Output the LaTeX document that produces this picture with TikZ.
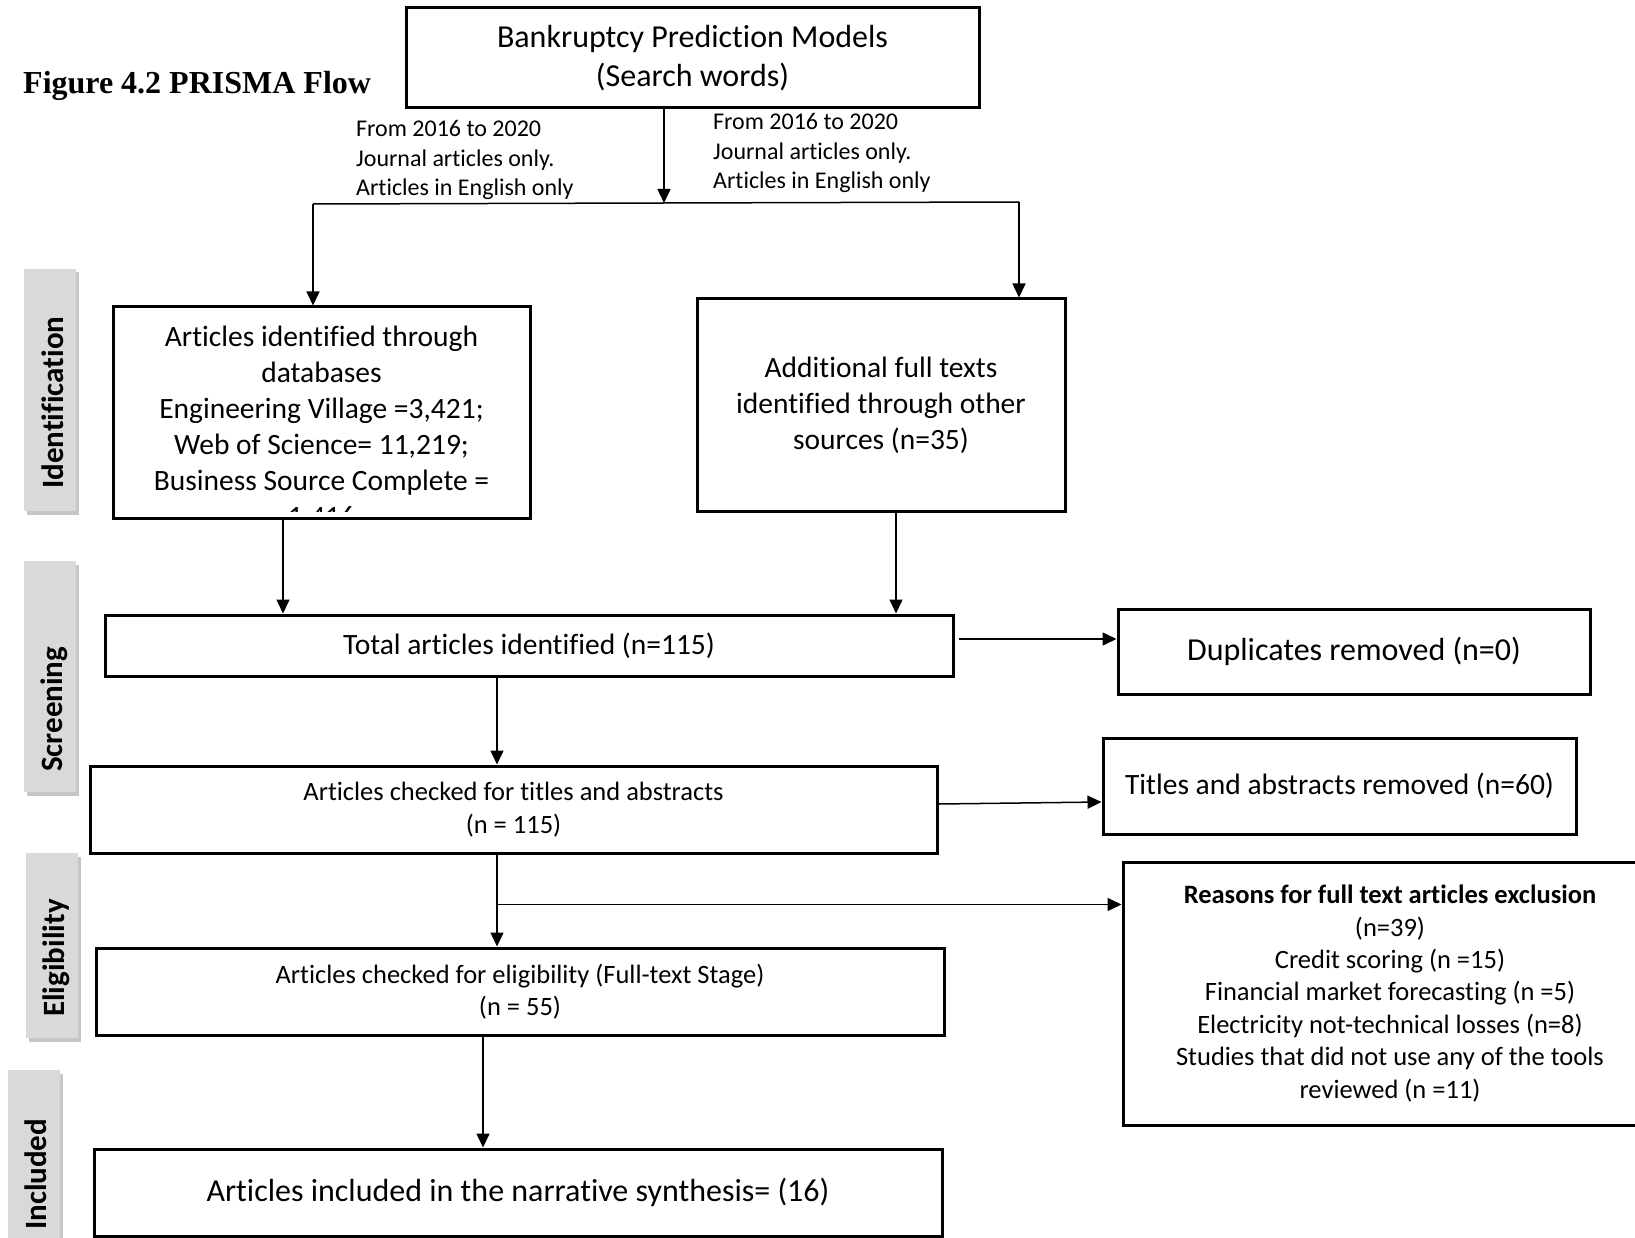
\documentclass[tikz,border=0pt]{standalone}
\usepackage{fontspec}
\setmainfont{Carlito}[Ligatures=NoCommon]
\newfontfamily\tnr{Liberation Serif}
\usetikzlibrary{arrows.meta,positioning,calc,shadows}
\definecolor{sidegray}{HTML}{D9D9D9}

\begin{document}
\begin{tikzpicture}[x=1pt,y=-1pt,
  bx/.style={draw,line width=3pt,inner sep=0pt,align=center},
  fa/.style={font=\fontsize{29.5}{36}\selectfont},
  fb/.style={font=\fontsize{26.5}{32.4}\selectfont},
  fc/.style={font=\fontsize{32}{38.6}\selectfont},
  lab/.style={anchor=west,align=left,inner sep=0pt,font=\fontsize{24}{29.2}\selectfont},
  side/.style={fill=sidegray,inner sep=0pt,minimum width=52pt,
    drop shadow={shadow xshift=2.5pt,shadow yshift=-3.5pt,opacity=.45}},
  sidetxt/.style={rotate=90,anchor=base west,inner sep=0pt,
    font=\bfseries\fontsize{31}{36}\selectfont},
  a/.style={-{Triangle[length=14pt,width=13pt]},line width=1.5pt}]
\useasboundingbox (0,0) rectangle (1635,1238);
\clip (0,0) rectangle (1635,1238);
% title and search box
\node[font=\tnr\bfseries\fontsize{32}{38}\selectfont,anchor=west,inner sep=0pt] (ttl) at (23,86)
  {Figure 4.2 PRISMA Flow};
\node[bx,fc,minimum width=573pt,minimum height=100pt] (top) at (692.5,58)
  {Bankruptcy Prediction Models\\(Search words)};
\node[lab] (lbl) at (356,160) {From 2016 to 2020\\Journal articles only.\\Articles in English only};
\node[lab] (lbr) at (713,153) {From 2016 to 2020\\Journal articles only.\\Articles in English only};
% stage labels
\node[side,minimum height=242pt] (sid) at (50,390) {};
\node[sidetxt] (tid) at (63,489) {Identification};
\node[side,minimum height=231pt] (ssc) at (50,676.5) {};
\node[sidetxt] (tsc) at (62,772) {Screening};
\node[side,minimum height=185pt] (sel) at (52,945.5) {};
\node[sidetxt] (tel) at (64,1017) {Eligibility};
\node[side,minimum height=190pt] (sin) at (34,1165) {};
\node[sidetxt] (tin) at (46,1230) {Included};
% identification
\node[bx,minimum width=417pt,minimum height=211pt] (db) at (321.5,412.5) {};
\begin{scope}
  \clip ([yshift=8pt]db.south west) rectangle (db.north east);
  \node[fa,anchor=north,align=center,inner sep=0pt] (dbtxt) at ([yshift=-20pt]db.north)
    {Articles identified through\\databases\\Engineering Village =3,421;\\Web of Science= 11,219;\\Business Source Complete =\\1,416};
\end{scope}
\node[bx,fa,minimum width=368pt,minimum height=212pt] (oth) at (881,405)
  {Additional full texts\\identified through other\\sources (n=35)};
% screening
\node[bx,fa,minimum width=848pt,minimum height=61pt] (tot) at (529,645.5)
  {Total articles identified (n=115)};
\node[bx,fc,minimum width=472pt,minimum height=85pt] (dup) at (1354,651.5)
  {Duplicates removed (n=0)};
\node[bx,fb,minimum width=847pt,minimum height=87pt] (chk) at (513.5,809.5)
  {Articles checked for titles and abstracts\\(n = 115)};
\node[bx,fa,minimum width=473pt,minimum height=96pt] (trm) at (1339.5,786)
  {Titles and abstracts removed (n=60)};
% eligibility
\node[bx,fb,minimum width=534pt,minimum height=263pt] (rsn) at (1390,993.5)
  {\textbf{Reasons for full text articles exclusion}\\(n=39)\\Credit scoring (n =15)\\Financial market forecasting (n =5)\\Electricity not-technical losses (n=8)\\Studies that did not use any of the tools\\reviewed (n =11)};
\node[bx,fb,minimum width=848pt,minimum height=87pt] (elg) at (520,991.5)
  {Articles checked for eligibility (Full-text Stage)\\(n = 55)};
% included
\node[bx,fc,minimum width=848pt,minimum height=87pt] (inc) at (518,1192.5)
  {Articles included in the narrative synthesis= (16)};
% connectors
\coordinate (sp) at (664,203);
\coordinate (spl) at (313,204);
\coordinate (spr) at (1019,202);
\draw[a] (top.south -| sp) -- (sp);
\draw[line width=1.5pt] (spl) -- (sp) -- (spr);
\draw[a] (spl) -- (spl |- db.north);
\draw[a] (spr) -- (spr |- oth.north);
\draw[a] ([xshift=-38.5pt]db.south) coordinate (d1) -- (d1 |- tot.north);
\draw[a] ([xshift=15pt]oth.south) coordinate (o1) -- (o1 |- tot.north);
\draw[a] ([shift={(4pt,6.5pt)}]tot.east) coordinate (t1) -- (t1 -| dup.west);
\draw[a] ([xshift=-32pt]tot.south) coordinate (t2) -- (t2 |- chk.north);
\draw[a] ([yshift=5.5pt]chk.east) -- ([yshift=-16pt]trm.west);
\draw[a] ([xshift=-16.5pt]chk.south) coordinate (c1) -- (c1 |- elg.north);
\coordinate (br) at ([yshift=-50pt]c1);
\draw[a] (br) -- (br -| rsn.west);
\draw[a] ([xshift=-37pt]elg.south) coordinate (e1) -- (e1 |- inc.north);
\end{tikzpicture}
\end{document}
